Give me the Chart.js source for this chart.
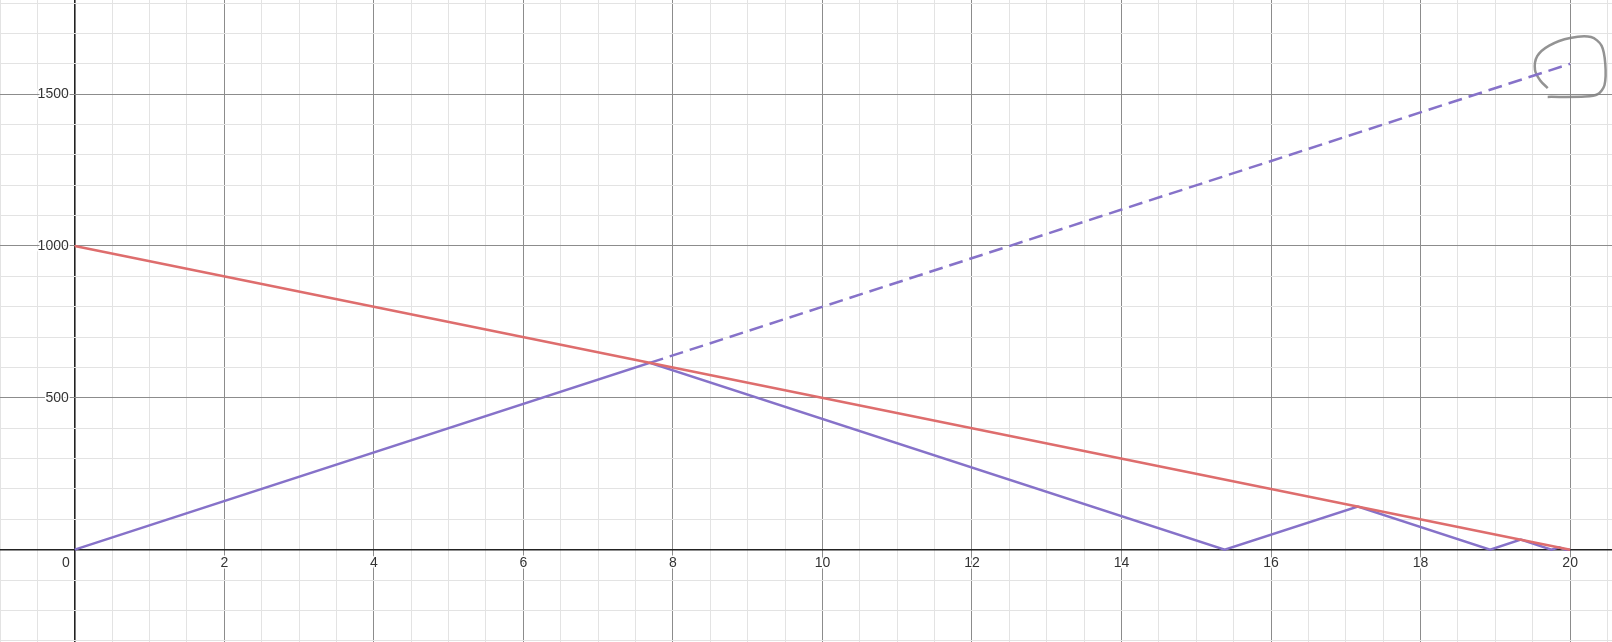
<!DOCTYPE html>
<html>
<head>
<meta charset="utf-8">
<script src="https://cdn.jsdelivr.net/npm/chart.js@4"></script>
<style>
  html, body { margin: 0; padding: 0; background: #fff; }
  #graph { display: block; }
</style>
</head>
<body>
<canvas id="graph" width="1612" height="642"></canvas>
<script>
// values
const redLine = [{ x: 0, y: 1000 }, { x: 20, y: 0 }];
const bounceLine = [
  { x: 0, y: 0 }, { x: 7.69, y: 615 }, { x: 15.38, y: 0 }, { x: 17.16, y: 142 },
  { x: 18.93, y: 0 }, { x: 19.34, y: 33 }, { x: 19.75, y: 0 }, { x: 19.85, y: 8 },
  { x: 19.94, y: 0 }, { x: 20, y: 0 }
];
const dashedLine = [{ x: 7.69, y: 615 }, { x: 20, y: 1600 }];
const scribble = [
  { x: 19.70, y: 1520 }, { x: 19.60, y: 1545 }, { x: 19.53, y: 1580 }, { x: 19.56, y: 1625 },
  { x: 19.72, y: 1660 }, { x: 20.00, y: 1685 }, { x: 20.28, y: 1688 }, { x: 20.42, y: 1660 },
  { x: 20.47, y: 1600 }, { x: 20.46, y: 1530 }, { x: 20.37, y: 1500 }, { x: 20.20, y: 1492 },
  { x: 19.70, y: 1491 }
];
const xLabels = [2, 4, 6, 8, 10, 12, 14, 16, 18, 20];
const yLabels = [500, 1000, 1500];

const xRange = [-1.0, 20.56];
const yRange = [-304, 1810];

function gridColor(step) {
  return ctx => {
    const v = ctx.tick.value;
    if (Math.abs(v) < 1e-9) return '#222';
    const r = Math.abs(v / step - Math.round(v / step));
    return r < 1e-6 ? '#8c8c8c' : '#e3e3e3';
  };
}

function gridWidth(ctx) {
  return Math.abs(ctx.tick.value) < 1e-9 ? 1.6 : 1;
}

const labelPlugin = {
  id: 'axisLabels',
  afterDraw(chart) {
    const { ctx, scales } = chart;
    const xs = scales.x, ys = scales.y;
    const x0 = xs.getPixelForValue(0);
    const y0 = ys.getPixelForValue(0);
    ctx.save();
    ctx.font = '14px "Liberation Sans", Arial, sans-serif';
    ctx.fillStyle = '#333';
    ctx.strokeStyle = '#fff';
    ctx.lineWidth = 3;
    ctx.lineJoin = 'round';
    ctx.textBaseline = 'middle';

    ctx.textAlign = 'center';
    xLabels.forEach(v => {
      const px = xs.getPixelForValue(v);
      ctx.strokeText(String(v), px, y0 + 13);
      ctx.fillText(String(v), px, y0 + 13);
    });
    ctx.textAlign = 'right';
    ctx.strokeText('0', x0 - 5, y0 + 13);
    ctx.fillText('0', x0 - 5, y0 + 13);
    yLabels.forEach(v => {
      const py = ys.getPixelForValue(v);
      ctx.strokeText(String(v), x0 - 6, py);
      ctx.fillText(String(v), x0 - 6, py);
    });
    ctx.restore();
  }
};

new Chart(document.getElementById('graph').getContext('2d'), {
  type: 'scatter',
  data: {
    datasets: [
      {
        data: redLine,
        showLine: true,
        borderColor: '#de6d6d',
        borderWidth: 2.5,
        pointRadius: 0
      },
      {
        data: dashedLine,
        showLine: true,
        borderColor: '#8672c9',
        borderWidth: 2.5,
        borderDash: [14, 7],
        pointRadius: 0
      },
      {
        data: bounceLine,
        showLine: true,
        borderColor: '#8672c9',
        borderWidth: 2.5,
        pointRadius: 0
      },
      {
        data: scribble,
        showLine: true,
        borderColor: 'rgba(128,128,128,0.85)',
        borderWidth: 2.5,
        tension: 0.3,
        pointRadius: 0
      }
    ]
  },
  options: {
    responsive: false,
    animation: false,
    layout: { padding: 0 },
    plugins: {
      legend: { display: false },
      tooltip: { enabled: false }
    },
    scales: {
      x: {
        type: 'linear',
        min: xRange[0],
        max: xRange[1],
        border: { display: false },
        ticks: { display: false, stepSize: 0.5, includeBounds: false, autoSkip: false },
        grid: { drawTicks: false, color: gridColor(2), lineWidth: gridWidth }
      },
      y: {
        type: 'linear',
        min: yRange[0],
        max: yRange[1],
        border: { display: false },
        ticks: { display: false, stepSize: 100, includeBounds: false, autoSkip: false },
        grid: { drawTicks: false, color: gridColor(500), lineWidth: gridWidth }
      }
    }
  },
  plugins: [labelPlugin]
});
</script>
</body>
</html>
